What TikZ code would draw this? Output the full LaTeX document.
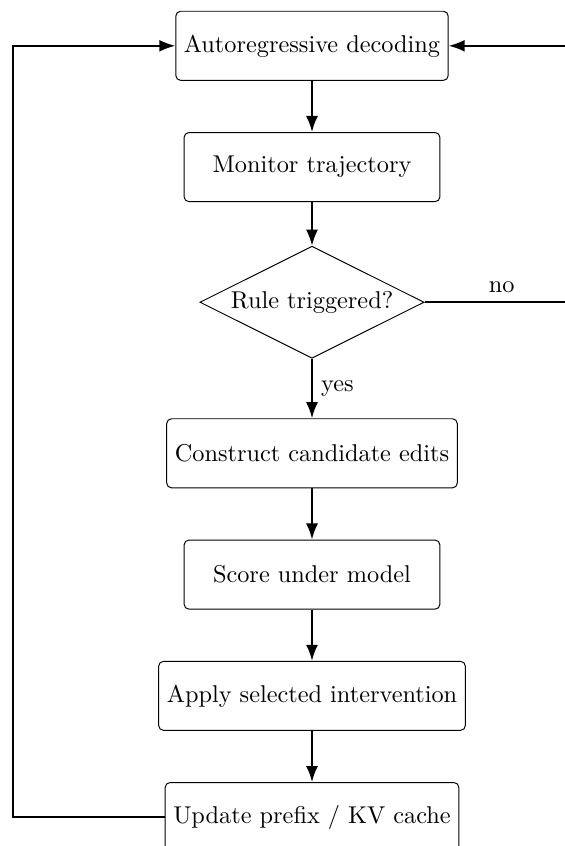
\documentclass[tikz,border=0pt]{standalone}
\usetikzlibrary{positioning,shapes.geometric,arrows.meta}
\begin{document}
\begin{tikzpicture}[node distance=7.4mm,
  box/.style={rectangle,rounded corners=2pt,draw,minimum width=3.7cm,minimum height=1cm},
  decision/.style={diamond,draw,aspect=2,inner sep=1.2pt},
  flow/.style={-{Latex},thick}]
	\useasboundingbox (-128.4pt,18.85pt) rectangle (104.1pt,-329.3pt);
	\node[box] (auto) at (0,0) {Autoregressive decoding};
	\node[box,below=of auto] (mon) {Monitor trajectory};
	\node[decision,below=6.3mm of mon] (rule) {Rule triggered?};
	\node[box,below=8.6mm of rule] (cand) {Construct candidate edits};
	\node[box,below=of cand] (score) {Score under model};
	\node[box,below=of score] (apply) {Apply selected intervention};
	\node[box,below=of apply] (upd) {Update prefix / KV cache};
	\draw[flow] (auto) -- (mon);
	\draw[flow] (mon) -- (rule);
	\draw[flow] (rule) -- node[right]{yes} (cand);
	\draw[flow] (cand) -- (score);
	\draw[flow] (score) -- (apply);
	\draw[flow] (apply) -- (upd);
	% loop back
	\draw[flow] (upd.west) -- ++(-62.3pt,0) |- (auto.west);
	\draw[flow] (rule.east) -- node[above]{no} ++(63.4pt,0) |- (auto.east);
\end{tikzpicture}
\end{document}
